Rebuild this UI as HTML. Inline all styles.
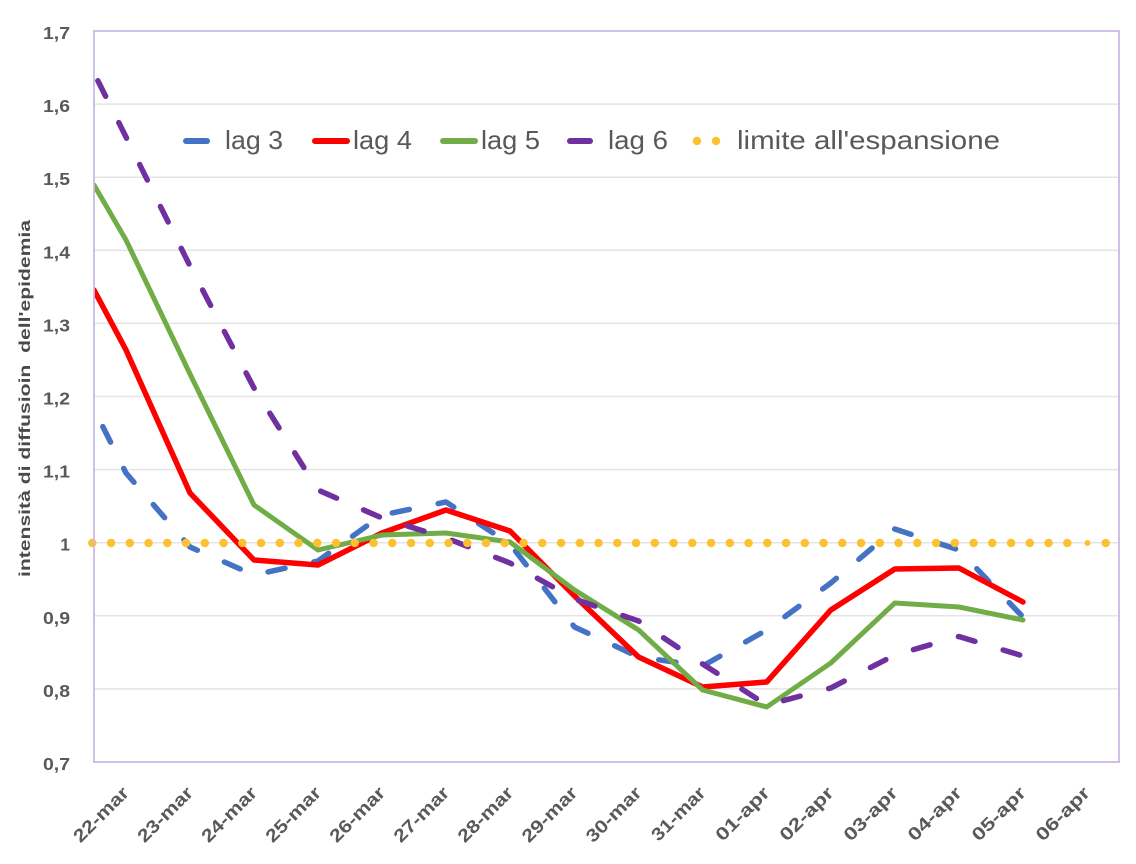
<!DOCTYPE html>
<html>
<head>
<meta charset="utf-8">
<style>
  html,body{margin:0;padding:0;background:#ffffff;}
  svg{display:block;}
  text{font-family:"Liberation Sans", Arial, sans-serif;}
</style>
</head>
<body>
<svg width="1136" height="864" viewBox="0 0 1136 864" xmlns="http://www.w3.org/2000/svg">
  <rect x="0" y="0" width="1136" height="864" fill="#ffffff"/>
  <defs>
    <clipPath id="plot"><rect x="94" y="31" width="1025" height="731"/></clipPath>
  </defs>

  <!-- gridlines -->
  <g stroke="#e4e4e4" stroke-width="1.5">
    <line x1="94" y1="104.1" x2="1119" y2="104.1"/>
    <line x1="94" y1="177.2" x2="1119" y2="177.2"/>
    <line x1="94" y1="250.3" x2="1119" y2="250.3"/>
    <line x1="94" y1="323.4" x2="1119" y2="323.4"/>
    <line x1="94" y1="396.5" x2="1119" y2="396.5"/>
    <line x1="94" y1="469.6" x2="1119" y2="469.6"/>
    <line x1="94" y1="542.7" x2="1119" y2="542.7"/>
    <line x1="94" y1="615.8" x2="1119" y2="615.8"/>
    <line x1="94" y1="688.9" x2="1119" y2="688.9"/>
  </g>

  <!-- series -->
  <g clip-path="url(#plot)" fill="none" stroke-linejoin="round">
    <!-- lag 3 -->
    <polyline stroke="#4472C4" stroke-width="5.5" stroke-linecap="round" stroke-dasharray="17.3 29.5" stroke-dashoffset="-19.7"
      points="94,409 126,473 190,547 254,575 318,561 382,515 446,502 510,544 574.5,627 638.6,657 702.6,666 766.7,630 830.8,583 894.8,529 958.9,550 1023,617"/>
    <!-- lag 4 -->
    <polyline stroke="#FF0000" stroke-width="5.5" stroke-linecap="round"
      points="94,290 126,350 190,493 254,560 318,565 382,533 446,510 510,531 574.5,596 638.6,657 702.6,687 766.7,682 830.8,610 894.8,569 958.9,568 1023,602"/>
    <!-- lag 5 -->
    <polyline stroke="#70AD47" stroke-width="5" stroke-linecap="round"
      points="94,185 126,240 190,374 254,505 318,550 382,535 446,533 510,542 574.5,590 638.6,630 702.6,690 766.7,707 830.8,663 894.8,603 958.9,607 1023,620"/>
    <!-- lag 6 -->
    <polyline stroke="#7030A0" stroke-width="5.5" stroke-linecap="round" stroke-dasharray="17.3 29.5" stroke-dashoffset="-8.7"
      points="94,73 126,137 190,266 254,388 318,490 382,518 446,538 510,563 574.5,599 638.6,621 702.6,664 766.7,705 830.8,688 894.8,655 958.9,636.5 1023,656"/>
  </g>

  <!-- limite all'espansione (dotted) -->
  <g>
    <line x1="92.3" y1="543" x2="1068" y2="543" stroke="#FDC02F" stroke-width="8.5" stroke-linecap="round" stroke-dasharray="0 18.75"/>
    <circle cx="1087.5" cy="543" r="3" fill="#FDC02F"/>
    <circle cx="1105.7" cy="543" r="4.25" fill="#FDC02F"/>
  </g>

  <!-- plot border -->
  <rect x="94" y="31" width="1025" height="731" fill="none" stroke="#cbb8e3" stroke-width="1.8"/>

  <!-- y tick labels -->
  <g fill="#595959" font-size="17.5" font-weight="bold" text-anchor="end">
    <text x="70" y="39" textLength="27" lengthAdjust="spacingAndGlyphs">1,7</text>
    <text x="70" y="112.1" textLength="27" lengthAdjust="spacingAndGlyphs">1,6</text>
    <text x="70" y="185.2" textLength="27" lengthAdjust="spacingAndGlyphs">1,5</text>
    <text x="70" y="258.3" textLength="27" lengthAdjust="spacingAndGlyphs">1,4</text>
    <text x="70" y="331.4" textLength="27" lengthAdjust="spacingAndGlyphs">1,3</text>
    <text x="70" y="404.5" textLength="27" lengthAdjust="spacingAndGlyphs">1,2</text>
    <text x="70" y="477.6" textLength="27" lengthAdjust="spacingAndGlyphs">1,1</text>
    <text x="70" y="550.7">1</text>
    <text x="70" y="623.8" textLength="27" lengthAdjust="spacingAndGlyphs">0,9</text>
    <text x="70" y="696.9" textLength="27" lengthAdjust="spacingAndGlyphs">0,8</text>
    <text x="70" y="770" textLength="27" lengthAdjust="spacingAndGlyphs">0,7</text>
  </g>

  <!-- y axis title -->
  <text transform="translate(30,398.5) rotate(-90)" text-anchor="middle" fill="#4a4a4a" font-size="16" font-weight="bold" textLength="357" lengthAdjust="spacingAndGlyphs" xml:space="preserve">intensità di diffusioin  dell'epidemia</text>

  <!-- x tick labels -->
  <g fill="#595959" font-size="18" font-weight="bold" text-anchor="end">
    <text transform="translate(130,794) rotate(-45)" textLength="70" lengthAdjust="spacingAndGlyphs">22-mar</text>
    <text transform="translate(194.1,794) rotate(-45)" textLength="70" lengthAdjust="spacingAndGlyphs">23-mar</text>
    <text transform="translate(258.1,794) rotate(-45)" textLength="70" lengthAdjust="spacingAndGlyphs">24-mar</text>
    <text transform="translate(322.2,794) rotate(-45)" textLength="70" lengthAdjust="spacingAndGlyphs">25-mar</text>
    <text transform="translate(386.3,794) rotate(-45)" textLength="70" lengthAdjust="spacingAndGlyphs">26-mar</text>
    <text transform="translate(450.4,794) rotate(-45)" textLength="70" lengthAdjust="spacingAndGlyphs">27-mar</text>
    <text transform="translate(514.4,794) rotate(-45)" textLength="70" lengthAdjust="spacingAndGlyphs">28-mar</text>
    <text transform="translate(578.5,794) rotate(-45)" textLength="70" lengthAdjust="spacingAndGlyphs">29-mar</text>
    <text transform="translate(642.6,794) rotate(-45)" textLength="70" lengthAdjust="spacingAndGlyphs">30-mar</text>
    <text transform="translate(706.6,794) rotate(-45)" textLength="68" lengthAdjust="spacingAndGlyphs">31-mar</text>
    <text transform="translate(770.7,794) rotate(-45)" textLength="68" lengthAdjust="spacingAndGlyphs">01-apr</text>
    <text transform="translate(834.8,794) rotate(-45)" textLength="68" lengthAdjust="spacingAndGlyphs">02-apr</text>
    <text transform="translate(898.8,794) rotate(-45)" textLength="68" lengthAdjust="spacingAndGlyphs">03-apr</text>
    <text transform="translate(962.9,794) rotate(-45)" textLength="68" lengthAdjust="spacingAndGlyphs">04-apr</text>
    <text transform="translate(1027,794) rotate(-45)" textLength="68" lengthAdjust="spacingAndGlyphs">05-apr</text>
    <text transform="translate(1091,794) rotate(-45)" textLength="68" lengthAdjust="spacingAndGlyphs">06-apr</text>
  </g>

  <!-- legend -->
  <g stroke-linecap="round" stroke-width="6">
    <line x1="186" y1="141" x2="207" y2="141" stroke="#4472C4"/>
    <line x1="315" y1="141" x2="347" y2="141" stroke="#FF0000"/>
    <line x1="443" y1="141" x2="475" y2="141" stroke="#70AD47"/>
    <line x1="570" y1="141" x2="590" y2="141" stroke="#7030A0"/>
  </g>
  <circle cx="697" cy="141" r="4.2" fill="#FDC02F"/>
  <circle cx="716" cy="141" r="4.2" fill="#FDC02F"/>
  <g fill="#595959" font-size="26">
    <text x="225" y="149" textLength="58" lengthAdjust="spacingAndGlyphs">lag 3</text>
    <text x="353" y="149" textLength="59" lengthAdjust="spacingAndGlyphs">lag 4</text>
    <text x="481" y="149" textLength="59" lengthAdjust="spacingAndGlyphs">lag 5</text>
    <text x="608" y="149" textLength="60" lengthAdjust="spacingAndGlyphs">lag 6</text>
    <text x="737" y="149" textLength="263" lengthAdjust="spacingAndGlyphs">limite all'espansione</text>
  </g>
</svg>
</body>
</html>
